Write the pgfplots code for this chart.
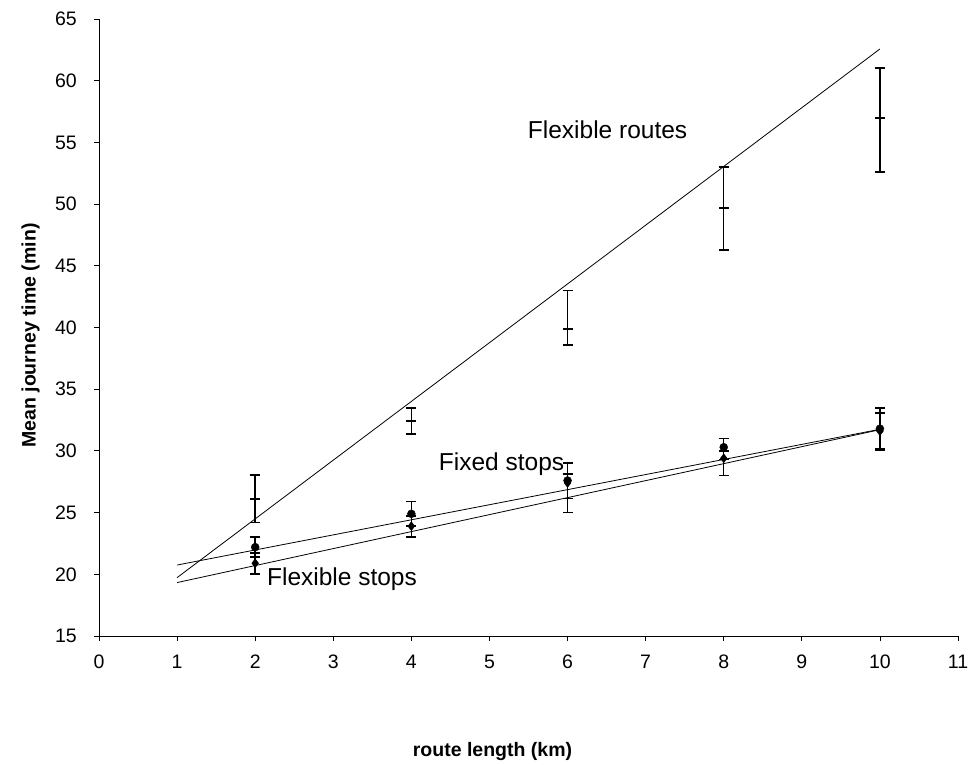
\documentclass[border=0pt]{standalone}
\usepackage{fontspec}
\setmainfont{Liberation Sans}
\usepackage{pgfplots}
\pgfplotsset{compat=1.18}

\newcommand{\tickfont}{\fontsize{19.5}{23}\selectfont}
\newcommand{\notefont}{\fontsize{24.5}{29}\selectfont}

\begin{document}
\begin{tikzpicture}
\begin{axis}[
name=ax,
scale only axis,
width=859pt,
height=617pt,
xmin=0, xmax=11,
ymin=15, ymax=65,
xtick={0,1,...,11},
ytick={15,20,...,65},
xticklabel={\tickfont\pgfmathprintnumber{\tick}},
yticklabel={\tickfont\pgfmathprintnumber{\tick}},
axis x line=bottom,
axis y line=left,
axis line style={-, line width=0.8pt},
tick align=outside,
major tick length=5pt,
tick style={black, line width=0.8pt},
yticklabel style={inner sep=0pt, xshift=-17pt},
xticklabel style={inner sep=0pt, yshift=-14pt},
/pgf/number format/assume math mode=true,
xlabel={\textbf{route length (km)}},
ylabel={\textbf{Mean journey time (min)}},
label style={font=\tickfont},
xlabel style={yshift=-70pt, xshift=-36pt},
ylabel style={yshift=12pt, xshift=-8pt},
error bars/error mark options={rotate=90, mark size=5pt, line width=1.8pt, black},
error bars/error bar style={line width=1.4pt, black},
clip=false,
]
% Flexible routes
\addplot[only marks, mark=-, mark size=5pt, mark options={line width=1.8pt, black},
  error bars/.cd, y dir=both, y explicit]
  table[x=x, y=y, y error plus=ep, y error minus=em] {
  x  y     ep    em
  2  26.1  1.95  1.9
  4  32.4  1.05  1.05
  6  39.9  3.1   1.35
  8  49.7  3.3   3.4
  10 57.0  4.0   4.4
};
% Fixed stops
\addplot[only marks, mark=*, mark size=4pt, black,
  error bars/.cd, y dir=both, y explicit]
  table[x=x, y=y, y error plus=ep, y error minus=em] {
  x  y     ep    em
  2  22.2  0.8   0.8
  4  24.9  1.0   1.0
  6  27.6  1.45  1.45
  8  30.3  0.7   1.0
  10 31.8  1.65  1.65
};
% Flexible stops
\addplot[only marks, mark=diamond*, mark size=4.5pt, black,
  error bars/.cd, y dir=both, y explicit]
  table[x=x, y=y, y error plus=ep, y error minus=em] {
  x  y     ep    em
  2  20.9  0.85  0.85
  4  23.9  0.85  0.85
  6  27.4  0.7   2.4
  8  29.4  0.6   1.4
  10 31.6  1.5   1.5
};
% trend lines
\addplot[black, line width=0.8pt] coordinates {(1,19.73) (10,62.57)};
\addplot[black, line width=0.8pt] coordinates {(1,20.75) (10,31.75)};
\addplot[black, line width=0.8pt] coordinates {(1,19.33) (10,31.72)};
\node[anchor=base west, inner sep=0pt, font=\notefont] at (axis cs:5.49,55.3) {Flexible routes};
\node[anchor=base west, inner sep=0pt, font=\notefont] at (axis cs:4.35,28.45) {Fixed stops};
\node[anchor=base west, inner sep=0pt, font=\notefont] at (axis cs:2.15,19.13) {Flexible stops};
\end{axis}
\path[use as bounding box] ([shift={(-99pt,-129pt)}]ax.south west) rectangle ([shift={(13pt,19pt)}]ax.north east);
\end{tikzpicture}
\end{document}
